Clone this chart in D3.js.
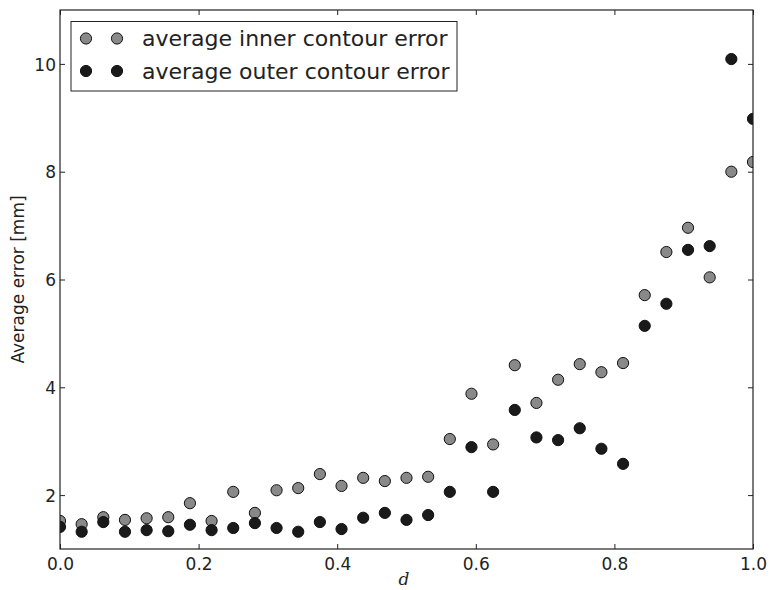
<!DOCTYPE html>
<html><head><meta charset="utf-8">
<script src="https://cdn.jsdelivr.net/npm/d3@7"></script>
<style>body{margin:0;background:#fff}svg{display:block}</style>
</head><body>
<script>
const dValues = [0,0.03125,0.0625,0.09375,0.125,0.15625,0.1875,0.21875,0.25,0.28125,0.3125,0.34375,0.375,0.40625,0.4375,0.46875,0.5,0.53125,0.5625,0.59375,0.625,0.65625,0.6875,0.71875,0.75,0.78125,0.8125,0.84375,0.875,0.90625,0.9375,0.96875,1.0];
const innerError = [1.52,1.46,1.59,1.54,1.57,1.59,1.85,1.52,2.06,1.67,2.09,2.13,2.39,2.17,2.32,2.26,2.32,2.34,3.04,3.88,2.94,4.41,3.71,4.14,4.43,4.28,4.45,5.71,6.51,6.96,6.04,8.0,8.18];
const outerError = [1.41,1.32,1.5,1.32,1.35,1.33,1.45,1.35,1.39,1.48,1.39,1.32,1.5,1.37,1.58,1.67,1.54,1.63,2.06,2.89,2.06,3.58,3.07,3.02,3.24,2.86,2.58,5.14,5.55,6.55,6.62,10.09,8.98];
const xTicks = [0,0.2,0.4,0.6,0.8,1.0];
const yTicks = [2,4,6,8,10];
const seriesNames = ["average inner contour error","average outer contour error"];

const W=770,H=590, L=60, R=753, T=10, B=549;
const svg=d3.select("body").append("svg").attr("width",W).attr("height",H);
const x=d3.scaleLinear().domain([0,1]).range([L,R]);
const y=d3.scaleLinear().domain([1,11]).range([B,T]);
const font="DejaVu Sans";
svg.append("defs").append("clipPath").attr("id","clip").append("rect")
  .attr("x",L).attr("y",T).attr("width",R-L).attr("height",B-T);

const g=svg.append("g").attr("clip-path","url(#clip)");
function draw(vals, fill){
  g.selectAll(null).data(vals).enter().append("circle")
   .attr("cx",(d,i)=>x(dValues[i])).attr("cy",d=>y(d)).attr("r",5.6)
   .attr("fill",fill).attr("stroke","#111").attr("stroke-width",1);
}
draw(innerError,"#898989");
draw(outerError,"#1a1a1a");

// axes with inward ticks
const bx=svg.append("g").attr("transform",`translate(0,${B})`)
 .call(d3.axisBottom(x).tickValues(xTicks).tickFormat(d3.format(".1f")).tickSize(-5));
const tx=svg.append("g").attr("transform",`translate(0,${T})`)
 .call(d3.axisTop(x).tickValues(xTicks).tickFormat("").tickSize(-5));
const ly=svg.append("g").attr("transform",`translate(${L},0)`)
 .call(d3.axisLeft(y).tickValues(yTicks).tickFormat(d3.format("d")).tickSize(-5).tickPadding(4));
const ry=svg.append("g").attr("transform",`translate(${R},0)`)
 .call(d3.axisRight(y).tickValues(yTicks).tickFormat("").tickSize(-5));
[bx,tx,ly,ry].forEach(a=>{a.select(".domain").remove();
  a.selectAll("line").attr("stroke","#222").attr("stroke-width",1);
  a.selectAll("text").attr("font-family",font).attr("font-size",17).attr("fill","#222");});
bx.selectAll("text").attr("y",21).attr("dy","0");
ly.selectAll("text").attr("dy","0.36em");

svg.append("rect").attr("x",L).attr("y",T).attr("width",R-L).attr("height",B-T)
 .attr("fill","none").attr("stroke","#222").attr("stroke-width",1.2);

// labels
svg.append("text").attr("x",404).attr("y",585).attr("text-anchor","middle")
 .attr("font-family","DejaVu Serif").attr("font-style","italic").attr("font-size",17).attr("fill","#222").text("d");
svg.append("text").attr("transform",`translate(24,${(T+B)/2}) rotate(-90)`).attr("text-anchor","middle")
 .attr("font-family",font).attr("font-size",17).attr("fill","#222").text("Average error [mm]");

// legend
const lg=svg.append("g");
lg.append("rect").attr("x",71).attr("y",21.5).attr("width",386).attr("height",69.5)
 .attr("fill","#fff").attr("stroke","#222").attr("stroke-width",1);
const colors=["#898989","#1a1a1a"];
seriesNames.forEach((n,i)=>{
  const yy=38.5+i*32.5;
  [86,117].forEach(cx=>lg.append("circle").attr("cx",cx).attr("cy",yy).attr("r",5.6)
    .attr("fill",colors[i]).attr("stroke","#111").attr("stroke-width",1));
  lg.append("text").attr("x",142).attr("y",yy).attr("dy","0.35em").attr("font-family",font)
    .attr("font-size",22).attr("fill","#222").text(n);
});
</script>
</body></html>
